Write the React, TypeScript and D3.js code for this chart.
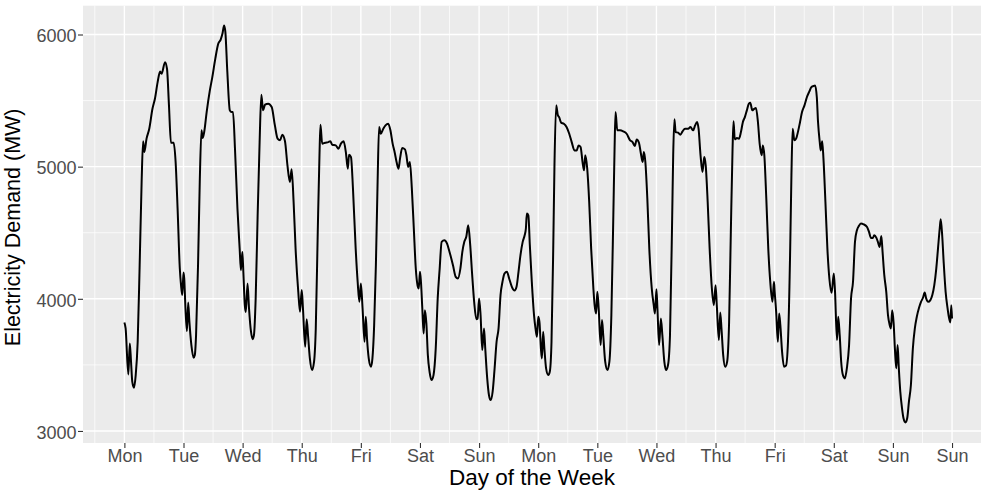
import * as d3 from "d3";
import { useEffect, useRef } from "react";

// readings per day: [hour of day, demand MW]
const mon1 = [[0,3821],[0.5,3776],[1.6,3428],[2.2,3662],[2.7,3524],[3.2,3373],[3.9,3327],[4.6,3423],[5.4,3675],[6.2,4254],[7.0,4884],[7.6,5192],[8.1,5111],[9.0,5212],[10.1,5287],[11.4,5438],[12.4,5514],[13.5,5640],[14.5,5720],[15.1,5703],[16.5,5791],[17.3,5741],[18.1,5464],[18.9,5181],[20.0,5181],[20.8,5035],[21.6,4683],[22.5,4229],[23.0,4103],[23.5,4028]];
const tue1 = [[0,4199],[0.3,4154],[0.8,3927],[1.4,3756],[1.9,3972],[2.4,3826],[3.2,3650],[4.1,3554],[4.6,3574],[5.1,3725],[5.9,4254],[6.6,4884],[7.3,5275],[7.8,5217],[8.4,5262],[9.4,5413],[10.7,5577],[11.7,5678],[12.9,5816],[14.1,5930],[15.1,5962],[15.8,6005],[16.5,6068],[17.0,6018],[17.8,5715],[18.8,5426],[19.5,5413],[20.1,5413],[20.9,5136],[21.9,4683],[22.8,4380],[23.3,4217],[23.9,4355]];
const wed1 = [[0.3,4200],[0.9,3950],[1.3,3900],[2.0,4116],[2.6,3927],[3.4,3751],[4.1,3695],[4.6,3725],[5.3,4003],[6.1,4632],[6.9,5186],[7.6,5544],[8.3,5426],[9.1,5469],[10.4,5476],[11.8,5451],[13.1,5312],[14.2,5212],[15.2,5199],[16.1,5242],[17.2,5192],[18.2,5010],[19.2,4884],[19.9,4980],[20.7,4733],[21.5,4380],[22.6,4053],[23.3,3902]];
const thu1 = [[0,4066],[0.5,3927],[1.4,3637],[2.0,3846],[2.6,3713],[3.3,3549],[4.2,3461],[5.0,3524],[5.7,3776],[6.5,4506],[7.2,5086],[7.6,5317],[8.3,5174],[9.5,5181],[10.8,5186],[11.6,5192],[12.4,5166],[13.8,5161],[14.9,5136],[15.9,5174],[17.0,5192],[17.9,5111],[18.7,4985],[19.2,5091],[20.0,5073],[20.8,4834],[21.9,4380],[22.7,4129],[23.4,3977]];
const fri1 = [[0,4116],[0.7,3927],[1.5,3675],[2.0,3864],[2.5,3700],[3.2,3549],[4.1,3486],[4.7,3549],[5.4,3801],[6.1,4254],[6.8,4884],[7.4,5300],[8.1,5249],[9.1,5287],[10.0,5312],[11.1,5325],[12.0,5275],[12.9,5174],[13.7,5111],[14.5,5035],[15.3,4985],[15.9,5061],[16.8,5141],[17.9,5131],[18.5,5086],[19.2,4998],[19.9,5035],[20.7,4834],[21.5,4532],[22.3,4229],[23.0,4103],[23.5,4078]];
const sat1 = [[0,4204],[0.4,4129],[0.95,3927],[1.5,3738],[2.0,3914],[2.6,3814],[3.2,3574],[3.9,3448],[4.7,3385],[5.5,3423],[6.4,3625],[7.2,4003],[8.0,4229],[8.8,4431],[9.9,4443],[11.0,4418],[12.0,4355],[13.4,4254],[14.5,4166],[15.4,4154],[16.4,4229],[17.2,4355],[18.0,4431],[18.8,4469],[19.6,4557],[20.4,4406],[21.2,4179],[22.0,3977],[22.9,3846],[23.4,3851]];
const sun1 = [[0,4003],[0.6,3877],[1.3,3612],[2.0,3776],[2.5,3625],[3.3,3398],[4.0,3272],[4.7,3234],[5.5,3297],[6.3,3474],[7.1,3675],[7.9,3776],[8.7,4028],[9.5,4129],[10.3,4191],[11.3,4204],[12.2,4154],[13.3,4091],[14.4,4063],[15.2,4091],[16.0,4204],[16.8,4330],[17.7,4431],[18.5,4481],[19.0,4532],[19.4,4645],[20.0,4632],[20.6,4406],[21.4,4129],[22.3,3877],[22.9,3776],[23.5,3713]];
const mon2 = [[0,3864],[0.5,3826],[1.1,3625],[1.5,3549],[2.0,3751],[2.5,3625],[3.2,3474],[4.1,3423],[4.7,3448],[5.4,3675],[6.1,4380],[6.6,5010],[7.3,5464],[8.0,5388],[8.5,5375],[9.3,5333],[10.4,5325],[11.5,5300],[12.6,5249],[13.6,5186],[14.7,5123],[15.6,5123],[16.4,5161],[17.2,5149],[18.0,5035],[18.6,4972],[19.1,5086],[19.9,4985],[20.7,4733],[21.5,4380],[22.4,4078],[22.9,3952],[23.5,3889]];
const tue2 = [[0,4053],[0.55,3927],[1.35,3650],[1.9,3839],[2.4,3725],[3.2,3524],[4.1,3461],[4.9,3524],[5.7,3877],[6.5,4632],[7.0,5136],[7.4,5413],[8.1,5275],[9.2,5275],[10.5,5267],[11.9,5249],[13.3,5199],[14.3,5186],[15.2,5156],[16.0,5206],[16.9,5181],[17.7,5098],[18.4,5035],[18.9,5111],[19.5,5035],[20.3,4758],[21.1,4380],[22.1,4078],[22.9,3952],[23.4,3889]];
const wed2 = [[0,4073],[0.4,3927],[1.1,3650],[1.8,3851],[2.4,3725],[3.2,3524],[3.9,3461],[4.7,3499],[5.5,3725],[6.4,4632],[6.8,5086],[7.3,5358],[7.8,5262],[8.8,5257],[9.7,5242],[10.6,5267],[11.6,5287],[12.9,5287],[13.8,5300],[14.9,5275],[15.7,5312],[16.5,5338],[17.1,5287],[17.9,5086],[18.7,4960],[19.4,5073],[20.0,5010],[20.8,4733],[21.6,4380],[22.5,4078],[23.3,3952]];
const thu2 = [[0,4103],[0.5,3952],[1.35,3688],[1.9,3897],[2.4,3776],[3.1,3574],[3.9,3486],[4.7,3524],[5.5,3826],[6.2,4506],[6.9,5136],[7.3,5343],[7.8,5207],[8.7,5217],[9.5,5212],[10.3,5262],[11.1,5338],[11.9,5375],[12.7,5426],[13.5,5476],[14.1,5484],[14.9,5426],[15.7,5438],[16.4,5443],[17.2,5338],[17.9,5174],[18.7,5086],[19.2,5161],[19.8,5086],[20.6,4758],[21.4,4380],[22.2,4129],[23.1,3977],[23.7,4129]];
const fri2 = [[0,4053],[0.6,3902],[1.3,3675],[1.8,3889],[2.3,3801],[3.0,3600],[3.8,3486],[4.6,3494],[5.4,3675],[6.3,4380],[6.8,4935],[7.3,5287],[8.0,5199],[8.7,5212],[9.5,5267],[10.3,5338],[11.1,5413],[12.1,5464],[13.1,5527],[14.1,5570],[14.9,5602],[15.7,5610],[16.4,5615],[17.1,5527],[17.6,5338],[18.3,5186],[18.7,5123],[19.3,5192],[19.8,5061],[20.6,4733],[21.4,4380],[22.2,4154],[23.1,4045]];
const sat2 = [[0,4191],[0.5,4053],[1.3,3688],[1.8,3864],[2.4,3725],[3.0,3524],[3.7,3423],[4.5,3398],[5.3,3474],[6.2,3650],[7.0,4003],[7.8,4129],[8.6,4431],[9.4,4519],[10.2,4552],[11.0,4569],[12.1,4564],[13.5,4544],[14.3,4506],[15.1,4461],[15.9,4461],[16.4,4481],[17.3,4461],[17.9,4431],[18.6,4393],[19.3,4476],[19.8,4355],[20.5,4179],[21.3,4053],[22.0,3877],[22.7,3801],[23.2,3776],[23.7,3914]];
const sun2 = [[0.3,3814],[0.8,3625],[1.35,3474],[1.9,3650],[2.4,3474],[3.0,3297],[3.7,3171],[4.3,3096],[5.1,3065],[5.8,3096],[6.5,3222],[7.3,3348],[8.1,3625],[8.9,3776],[9.7,3864],[10.6,3932],[11.4,3977],[12.2,4008],[12.9,4048],[13.5,4003],[14.3,3977],[15.2,3990],[16.0,4028],[16.8,4103],[17.6,4229],[18.3,4380],[19.0,4532],[19.4,4602],[20.0,4481],[20.6,4280],[21.4,4053],[22.2,3927],[22.7,3864],[23.3,3821],[23.7,3952],[24,3851]];

const days = [mon1, tue1, wed1, thu1, fri1, sat1, sun1, mon2, tue2, wed2, thu2, fri2, sat2, sun2];

const dayLabels = ["Mon", "Tue", "Wed", "Thu", "Fri", "Sat", "Sun", "Mon", "Tue", "Wed", "Thu", "Fri", "Sat", "Sun", "Sun"];
const yTicks = [3000, 4000, 5000, 6000];
const yMinor = [3500, 4500, 5500];

const W = 982;
const H = 492;
const FONT = "'Liberation Sans', Arial, Helvetica, sans-serif";

const App = () => {
  const ref = useRef(null);

  useEffect(() => {
    const svg = d3.select(ref.current);
    svg.selectAll("*").remove();

    // panel box
    const left = 83, right = 981, top = 5.7, bottom = 443;

    const x = d3.scaleLinear().domain([-0.7, 14.49]).range([left, right]);
    const y = d3.scaleLinear().domain([2909, 6218]).range([bottom, top]);

    const points = days.flatMap((d, i) => d.map(([h, v]) => ({ t: i + h / 24, v })));

    svg.append("rect")
      .attr("x", left).attr("y", top)
      .attr("width", right - left).attr("height", bottom - top)
      .attr("fill", "#EBEBEB");

    // grid: minor first, then major
    const xMinor = d3.range(-0.5, 14.6, 1);
    svg.append("g").selectAll("line").data(xMinor).enter().append("line")
      .attr("x1", d => x(d)).attr("x2", d => x(d))
      .attr("y1", top).attr("y2", bottom)
      .attr("stroke", "white").attr("stroke-width", 0.7);
    svg.append("g").selectAll("line").data(yMinor).enter().append("line")
      .attr("x1", left).attr("x2", right)
      .attr("y1", d => y(d)).attr("y2", d => y(d))
      .attr("stroke", "white").attr("stroke-width", 0.7);

    svg.append("g").selectAll("line").data(d3.range(0, 15)).enter().append("line")
      .attr("x1", d => x(d)).attr("x2", d => x(d))
      .attr("y1", top).attr("y2", bottom)
      .attr("stroke", "white").attr("stroke-width", 1.4);
    svg.append("g").selectAll("line").data(yTicks).enter().append("line")
      .attr("x1", left).attr("x2", right)
      .attr("y1", d => y(d)).attr("y2", d => y(d))
      .attr("stroke", "white").attr("stroke-width", 1.4);

    // the demand line
    const line = d3.line<{ t: number; v: number }>()
      .x(d => x(d.t))
      .y(d => y(d.v))
      .curve(d3.curveMonotoneX);

    svg.append("path")
      .datum(points)
      .attr("d", line)
      .attr("fill", "none")
      .attr("stroke", "black")
      .attr("stroke-width", 2)
      .attr("stroke-linejoin", "round");

    // axes
    const xAxis = d3.axisBottom(x)
      .tickValues(d3.range(0, 15))
      .tickFormat((d, i) => dayLabels[i])
      .tickSize(5).tickSizeOuter(0).tickPadding(1.2);
    const gx = svg.append("g").attr("transform", `translate(0, ${bottom})`).call(xAxis);
    gx.select(".domain").remove();
    gx.selectAll("line").attr("stroke", "#333333").attr("stroke-width", 1.1);
    gx.selectAll("text").attr("fill", "#4D4D4D").style("font-size", "18px").style("font-family", FONT);

    const yAxis = d3.axisLeft(y)
      .tickValues(yTicks)
      .tickFormat(d3.format("d"))
      .tickSize(5).tickSizeOuter(0).tickPadding(1.5);
    const gy = svg.append("g").attr("transform", `translate(${left}, 0)`).call(yAxis);
    gy.select(".domain").remove();
    gy.selectAll("line").attr("stroke", "#333333").attr("stroke-width", 1.1);
    gy.selectAll("text").attr("fill", "#4D4D4D").attr("dy", "0.4em").style("font-size", "18px").style("font-family", FONT);

    // titles
    svg.append("text")
      .attr("x", (left + right) / 2)
      .attr("y", 485)
      .attr("text-anchor", "middle")
      .style("font-size", "22.5px")
      .style("font-family", FONT)
      .attr("fill", "black")
      .text("Day of the Week");

    svg.append("text")
      .attr("transform", `translate(20, ${(top + bottom) / 2 + 3}) rotate(-90)`)
      .attr("text-anchor", "middle")
      .style("font-size", "21.5px")
      .style("font-family", FONT)
      .attr("fill", "black")
      .text("Electricity Demand (MW)");
  }, []);

  return (
    <svg ref={ref} width={W} height={H} style={{ position: "absolute", left: 0, top: 0, background: "white" }}></svg>
  );
};

export default App;
